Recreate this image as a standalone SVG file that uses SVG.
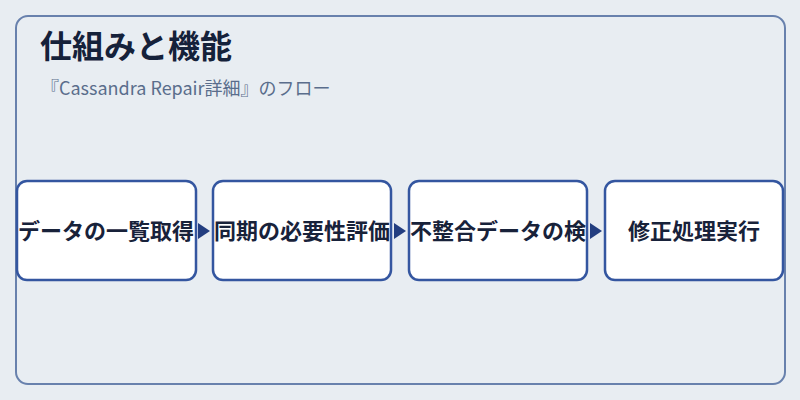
<svg xmlns="http://www.w3.org/2000/svg" width="800" height="400" viewBox="0 0 800 400">
<defs>
<style>
.frame{fill:#e8edf2;stroke:#6881ad;stroke-width:2}
.node rect{fill:#ffffff;stroke:#3456a0;stroke-width:2.5}
.node text{font-family:"Noto Sans CJK JP","Noto Sans",sans-serif;font-size:22px;font-weight:bold;fill:#18223a;text-anchor:middle}
.title{font-family:"Noto Sans CJK JP","Noto Sans",sans-serif;font-size:32px;font-weight:bold;fill:#15213a}
.sub{font-family:"Noto Sans CJK JP","Noto Sans",sans-serif;font-size:18px;fill:#5a6d8c}
</style>
</defs>
<rect width="800" height="400" fill="#e8edf2"/>
<rect class="frame" x="16" y="16" width="769" height="368" rx="12"/>
<text class="title" x="40" y="58">仕組みと機能</text>
<text class="sub" x="41" y="95">『Cassandra Repair詳細』のフロー</text>
<g id="connectors">
<path d="M198,223 L210,231 L198,239 Z" fill="#233e80"/>
<path d="M394,223 L406,231 L394,239 Z" fill="#233e80"/>
<path d="M590,223 L602,231 L590,239 Z" fill="#233e80"/>
</g>
<g id="node1" class="node">
<rect x="17" y="181" width="179" height="99" rx="10"/>
<text x="106" y="239">データの一覧取得</text>
</g>
<g id="node2" class="node">
<rect x="213" y="181" width="178" height="99" rx="10"/>
<text x="302" y="239">同期の必要性評価</text>
</g>
<g id="node3" class="node">
<rect x="409" y="181" width="178" height="99" rx="10"/>
<text x="498" y="239">不整合データの検</text>
</g>
<g id="node4" class="node">
<rect x="605" y="181" width="178" height="99" rx="10"/>
<text x="694" y="239">修正処理実行</text>
</g>
</svg>
